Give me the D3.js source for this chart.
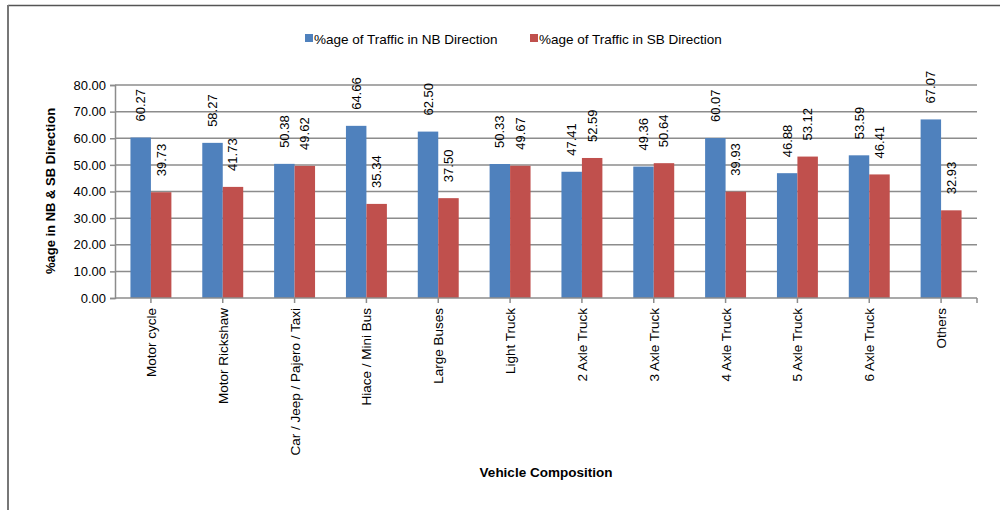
<!DOCTYPE html>
<html><head><meta charset="utf-8">
<script src="https://cdn.jsdelivr.net/npm/d3@7"></script>
<style>
body{margin:0;background:#fff;}
svg{display:block;font-family:"Liberation Sans",Arial,sans-serif;}
</style></head>
<body><svg id="c" width="1000" height="510"></svg>
<script>
const categories = ["Motor cycle","Motor Rickshaw","Car / Jeep / Pajero / Taxi","Hiace / Mini Bus","Large Buses","Light Truck","2 Axle Truck","3 Axle Truck","4 Axle Truck","5 Axle Truck","6 Axle Truck","Others"];
const nbValues = [60.27,58.27,50.38,64.66,62.50,50.33,47.41,49.36,60.07,46.88,53.59,67.07];
const sbValues = [39.73,41.73,49.62,35.34,37.50,49.67,52.59,50.64,39.93,53.12,46.41,32.93];
const seriesNames = ["%age of Traffic in NB Direction","%age of Traffic in SB Direction"];
const yTicks = [0,10,20,30,40,50,60,70,80];
const colors = ["#4F81BD","#C0504D"];

const svg = d3.select("#c");
// frame
svg.append("line").attr("x1",8).attr("x2",1000).attr("y1",5.5).attr("y2",5.5).attr("stroke","#555").attr("stroke-width",1.5);
svg.append("line").attr("x1",8).attr("x2",8).attr("y1",5).attr("y2",510).attr("stroke","#777").attr("stroke-width",2);

const L=115, R=977, T=85, B=298;
const x = d3.scaleBand().domain(categories).range([L,R]).paddingInner(0.43).paddingOuter(0.215);
const x1 = d3.scaleBand().domain([0,1]).range([0,x.bandwidth()]);
const y = d3.scaleLinear().domain([0,80]).range([B,T]);

// gridlines
svg.append("g").selectAll("line").data(yTicks.slice(1)).join("line")
  .attr("x1",L).attr("x2",R).attr("y1",d=>y(d)).attr("y2",d=>y(d))
  .attr("stroke","#8c8c8c").attr("stroke-width",1.5);

// y axis
const ya = svg.append("g").attr("transform",`translate(${L},0)`)
  .call(d3.axisLeft(y).tickValues(yTicks).tickFormat(d3.format(".2f")).tickSize(5).tickPadding(4));
ya.select(".domain").attr("stroke","#8c8c8c").attr("stroke-width",1.5);
ya.selectAll(".tick line").attr("stroke","#8c8c8c").attr("stroke-width",1.5);
ya.selectAll("text").attr("font-size",13).attr("fill","#000").attr("font-family","Liberation Sans Narrow, Liberation Sans, Arial");

// bars
const data = categories.map((c,i)=>({c, v:[nbValues[i],sbValues[i]]}));
const g = svg.append("g");
data.forEach(d=>{
  d.v.forEach((v,k)=>{
    const bx = x(d.c)+x1(k);
    g.append("rect").attr("x",bx).attr("y",y(v)).attr("width",x1.bandwidth()).attr("height",B-y(v)).attr("fill",colors[k]);
    g.append("text").attr("transform",`translate(${bx+x1.bandwidth()/2+4.5},${y(v)-16}) rotate(-90)`)
      .attr("text-anchor","start").attr("font-size",13).attr("font-family","Liberation Sans Narrow, Liberation Sans, Arial").text(d3.format(".2f")(v));
  });
});

// x axis
svg.append("line").attr("x1",L).attr("x2",R).attr("y1",B).attr("y2",B).attr("stroke","#8c8c8c").attr("stroke-width",1.5);
const tickXs = categories.map(c=>x(c)+x.bandwidth()/2).concat([R]);
svg.append("g").selectAll("line").data(tickXs).join("line")
  .attr("x1",d=>d).attr("x2",d=>d).attr("y1",B).attr("y2",B+5).attr("stroke","#8c8c8c").attr("stroke-width",1.5);
svg.append("g").selectAll("text").data(categories).join("text")
  .attr("transform",c=>`translate(${x(c)+x.bandwidth()/2+5},${B+10}) rotate(-90)`)
  .attr("text-anchor","end").attr("font-size",13.5).text(c=>c);

// axis titles
svg.append("text").attr("transform","translate(55,191) rotate(-90)").attr("text-anchor","middle")
  .attr("font-size",13).attr("font-weight","bold").text("%age in NB & SB Direction");
svg.append("text").attr("x",546).attr("y",477).attr("text-anchor","middle")
  .attr("font-size",13.5).attr("font-weight","bold").text("Vehicle Composition");

// legend
const lx=[305,530];
seriesNames.forEach((n,k)=>{
  svg.append("rect").attr("x",lx[k]).attr("y",34).attr("width",8).attr("height",8).attr("fill",colors[k]);
  svg.append("text").attr("x",lx[k]+9).attr("y",43.5).attr("font-size",13.5)
    .attr("font-family","Liberation Sans Narrow, Liberation Sans, Arial").text(n);
});
</script></body></html>
